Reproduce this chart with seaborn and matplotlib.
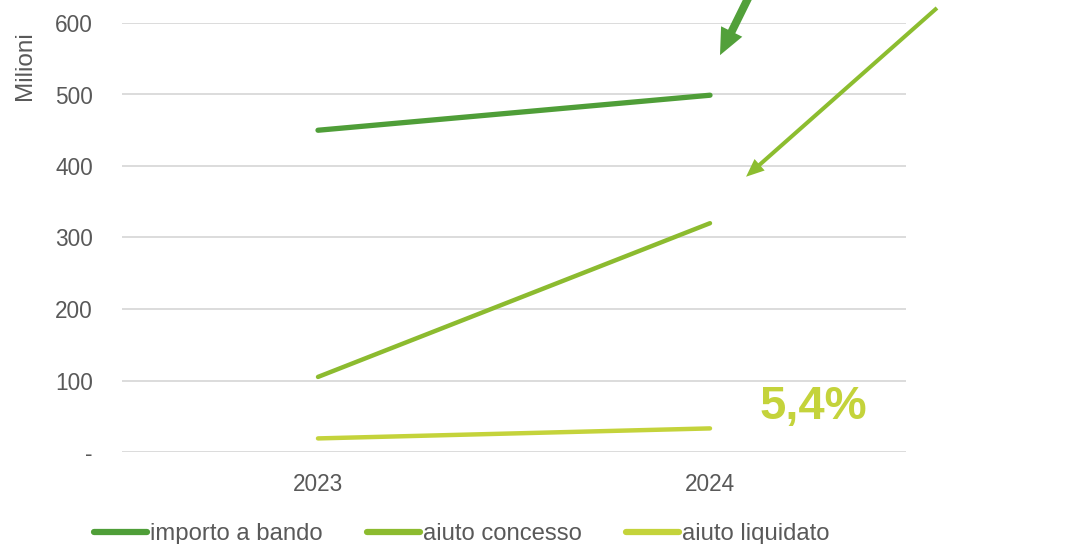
import matplotlib
matplotlib.use("Agg")
import matplotlib.pyplot as plt
import seaborn as sns
import pandas as pd

years = ["2023", "2024"]
series_names = ["importo a bando", "aiuto concesso", "aiuto liquidato"]
importo_a_bando = [450, 499]
aiuto_concesso = [105, 320]
aiuto_liquidato = [19, 33]
y_ticks = [0, 100, 200, 300, 400, 500, 600]
y_tick_labels = ["-", "100", "200", "300", "400", "500", "600"]
annotation_text = "5,4%"

colors = ["#4F9E38", "#8CBB2F", "#C4D33B"]
widths = [3.8, 3.2, 3.2]

df = pd.DataFrame({
    "anno": years * 3,
    "valore": importo_a_bando + aiuto_concesso + aiuto_liquidato,
    "serie": [s for s in series_names for _ in years],
})

sns.set_theme(style="white")
plt.rcParams["font.family"] = ["Liberation Sans", "DejaVu Sans"]

fig = plt.figure(figsize=(10.65, 5.44), dpi=100)
ax = fig.add_axes([122 / 1065, 1 - 452 / 544, 784 / 1065, 429 / 544])

sns.lineplot(data=df, x="anno", y="valore", hue="serie", palette=colors,
             hue_order=series_names, linewidth=3.2, ax=ax, legend=False,
             sort=False)
for ln, w in zip(ax.lines, widths):
    ln.set_solid_capstyle("round")
    ln.set_linewidth(w)

ax.set_xlim(-0.5, 1.5)
ax.set_ylim(0, 600)
ax.set_yticks(y_ticks)
ax.set_yticklabels(y_tick_labels)
ax.grid(axis="y", color="#D9D9D9", linewidth=1.3)
ax.set_axisbelow(True)
for sp in ax.spines.values():
    sp.set_visible(False)
ax.tick_params(axis="both", length=0, colors="#595959", labelsize=16.3)
ax.tick_params(axis="y", pad=21)
ax.tick_params(axis="x", pad=15)
ax.set_xlabel("")
ax.set_ylabel("Milioni", color="#595959", fontsize=17.5)
ax.yaxis.set_label_coords(-0.110, 0.90)

# arrows
ax.annotate("", xy=(1.0255, 555), xytext=(1.102, 640), xycoords="data",
            annotation_clip=False,
            arrowprops=dict(arrowstyle="simple,head_length=19,head_width=17,tail_width=5.8",
                            mutation_scale=1, fc="#52A03A", ec="none", lw=0,
                            shrinkA=0, shrinkB=0))
ax.annotate("", xy=(1.092, 385), xytext=(1.579, 621), xycoords="data",
            annotation_clip=False,
            arrowprops=dict(arrowstyle="simple,head_length=13,head_width=11,tail_width=2.9",
                            mutation_scale=1, fc="#8CBD2F", ec="none", lw=0,
                            shrinkA=0, shrinkB=0))

ax.text(1.263, 63, annotation_text, color="#C4D33B", fontsize=34,
        fontweight="bold", ha="center", va="center")

handles = [plt.Line2D([0], [0], color=c, lw=4.5, solid_capstyle="round")
           for c in colors]
fig.legend(handles, series_names, loc="center left",
           bbox_to_anchor=(94 / 1065, 1 - 534 / 544), ncol=3, frameon=False,
           fontsize=17.2, handlelength=2.2, handletextpad=0.15,
           columnspacing=1.85, labelcolor="#595959", borderpad=0,
           borderaxespad=0)

fig.savefig("out.png", dpi=100)
